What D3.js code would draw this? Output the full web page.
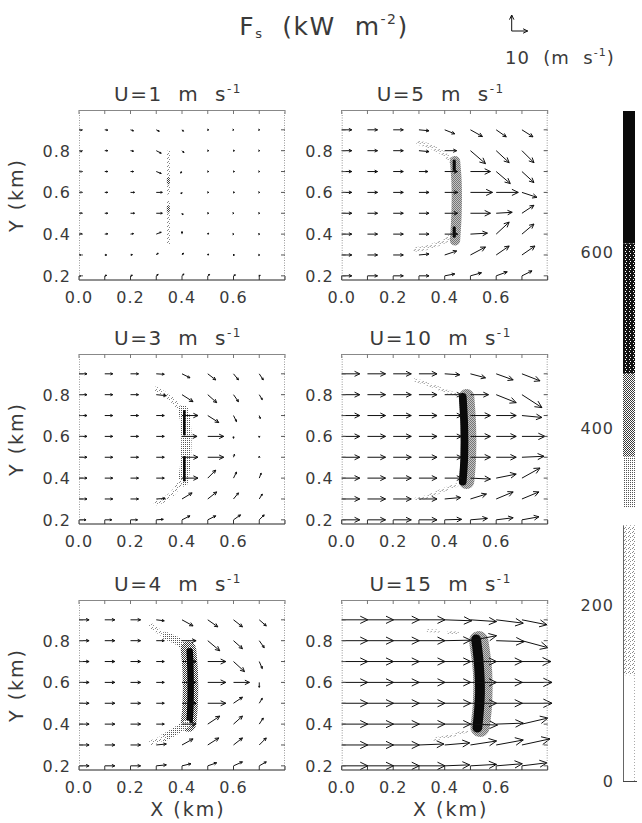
<!DOCTYPE html>
<html><head><meta charset="utf-8">
<script src="https://cdn.jsdelivr.net/npm/d3@7"></script>
<style>
html,body{margin:0;padding:0;background:#fff;}
text{font-family:"DejaVu Sans",sans-serif;fill:#3a3a3a;}
</style></head><body>
<svg id="fig" width="642" height="823"></svg>
<script>
// Grid of the wind vectors (km)
const gridX = [0.0, 0.1, 0.2, 0.3, 0.4, 0.5, 0.6, 0.7];
const gridY = [0.9, 0.8, 0.7, 0.6, 0.5, 0.4, 0.3, 0.2];
const xTickLabels = [0.0, 0.2, 0.4, 0.6];
const yTickLabels = [0.2, 0.4, 0.6, 0.8];
const colorbarTicks = [0, 200, 400, 600];
// Sensible heat flux shading classes (kW m-2)
const fluxEdges = [0, 120, 290, 310, 368, 462, 610, 760];
const fluxShades = ["none", "light", "none", "lightmed", "med", "dark", "black"];
// Ambient wind speed of each panel, row by row (m s-1)
const ambientSpeeds = [1, 5, 3, 10, 4, 15];

// Wind (u, v) in m s-1, rows from y=0.9 down to y=0.2, columns x=0.0..0.7
const windU1 = [
  [[1.9,-0.3],[1.9,-0.2],[1.9,-0.6],[1.9,-0.9],[0.9,-0.9],[0.6,0],[0.3,0],[0.3,0]],
  [[1.9,-0.6],[1.9,0],[1.9,-0.3],[3.1,-1.6],[1.2,-1.2],[0.6,0],[0.6,0],[0.3,0]],
  [[1.9,0],[1.9,0],[1.9,0],[3.1,-1.2],[-0.9,-0.9],[0.6,0],[0.6,0],[0.3,0]],
  [[1.9,0],[1.9,0],[2.5,0],[3.8,0],[-0.6,-0.9],[0.6,0],[0.6,0],[0.3,0]],
  [[1.9,0],[1.9,0],[2.5,0],[3.8,0],[0.6,-1.0],[0.6,0],[0.3,0],[0.3,0]],
  [[1.9,0.3],[1.9,0.2],[1.9,0.3],[3.1,1.2],[0,1.6],[0.6,0.6],[0.3,0],[0.3,0]],
  [[1.2,0],[1.2,0],[1.2,0.2],[1.2,1.2],[0.9,1.2],[0.6,0.6],[0.6,0],[0.3,0]],
  [[1.2,0],[1.2,0.3],[1.2,0.3],[1.2,0.9],[1.2,1.2],[1.2,0.9],[1.2,0.6],[0.6,0.3]]
];
const windU5 = [
  [[6.3,0],[6.3,0],[6.3,0],[6.3,-0.6],[6.3,-2.5],[7.5,-4.2],[6.3,-4.4],[6.9,-4.4]],
  [[6.3,0],[6.3,0],[6.3,0],[6.3,-0.6],[7.5,0],[9.4,-8.1],[8.1,-7.5],[7.5,-7.5]],
  [[6.3,0],[6.3,0],[6.3,0],[5.6,0],[8.1,0],[12.5,0],[8.8,-7.5],[7.5,-6.9]],
  [[6.3,0],[6.3,0],[6.3,0],[6.3,0],[8.1,0],[13.8,0],[13.8,0],[9.4,-3.1]],
  [[6.3,0],[6.3,0],[6.3,0],[6.3,0],[8.1,0],[12.5,0],[10.0,0.6],[7.5,5.0]],
  [[6.3,0],[6.3,0],[6.3,0],[6.3,0],[8.1,0],[10.6,0.6],[8.1,7.5],[7.5,6.3]],
  [[6.3,0],[6.3,0],[6.3,0],[6.3,0.6],[7.5,2.5],[9.4,5.0],[8.1,5.6],[8.1,5.6]],
  [[6.3,0],[6.3,0],[6.3,0],[6.3,0],[6.3,1.2],[6.9,1.9],[6.9,2.5],[6.3,3.1]]
];
const windU3 = [
  [[5.0,0],[5.0,0],[5.0,0],[5.0,-0.3],[5.0,-2.5],[5.0,-3.8],[3.1,-3.8],[2.5,-3.8]],
  [[5.0,0],[5.0,0],[5.0,0],[6.3,-0.6],[6.9,-4.4],[5.6,-5.0],[3.1,-4.4],[1.9,-3.1]],
  [[5.0,0],[5.0,0],[5.0,0],[5.0,0],[10.0,0],[6.9,-4.4],[1.9,-3.8],[0.6,-1.9]],
  [[5.0,0],[5.0,0],[5.0,0],[5.0,0],[9.4,0],[10.0,0],[0,-1.2],[0,-0.6]],
  [[5.0,0],[5.0,0],[5.0,0],[5.0,0],[10.0,0],[10.0,0],[0.6,1.9],[0,0.6]],
  [[5.0,0],[5.0,0],[5.0,0],[5.0,0],[10.0,0],[5.0,5.0],[1.9,3.8],[1.2,3.1]],
  [[5.0,0],[5.0,0],[5.0,0],[5.6,0.3],[6.3,3.8],[5.6,4.4],[3.1,3.8],[1.9,3.1]],
  [[4.4,0],[4.4,0],[4.4,0],[4.4,0.3],[5.0,2.5],[5.0,2.5],[4.4,3.1],[3.1,3.1]]
];
const windU10 = [
  [[11.3,0],[11.3,0],[11.3,0],[11.3,0],[9.4,-0.6],[9.4,-2.5],[10.6,-3.8],[11.3,-4.4]],
  [[11.3,0],[11.3,0],[11.3,0],[11.3,0],[10.6,0],[11.3,0],[12.5,-5.0],[12.5,-8.1]],
  [[11.3,0],[11.3,0],[11.3,0],[11.3,0],[10.6,0],[12.5,0],[12.5,0],[12.5,-1.2]],
  [[11.3,0],[11.3,0],[11.3,0],[11.3,0],[10.6,0],[12.5,0],[12.5,0],[14.4,0]],
  [[11.3,0],[11.3,0],[11.3,0],[11.3,0],[10.6,0],[12.5,0],[12.5,0],[13.8,0.6]],
  [[11.3,0],[11.3,0],[11.3,0],[11.3,0],[10.6,0],[12.5,-0.6],[12.5,2.5],[11.3,6.3]],
  [[11.3,0],[11.3,0],[11.3,0],[11.3,0],[10.0,0.9],[10.0,3.1],[10.6,4.4],[10.6,4.4]],
  [[11.3,0],[11.3,0],[11.3,0],[11.3,0],[10.6,0.3],[10.6,0.9],[10.6,1.3],[10.6,1.9]]
];
const windU4 = [
  [[6.3,0],[6.3,0],[6.3,0],[5.0,-0.6],[6.9,-3.8],[6.3,-4.4],[5.6,-4.4],[4.4,-3.8]],
  [[6.3,0],[6.3,0],[6.3,0],[5.0,0],[8.8,0],[7.5,-6.3],[5.6,-5.0],[3.1,-4.4]],
  [[6.3,0],[6.3,0],[6.3,0],[5.0,0],[8.8,0],[11.3,0],[6.9,-6.3],[1.9,-4.4]],
  [[6.3,0],[6.3,0],[6.3,0],[5.0,0],[8.8,0],[11.3,0],[10.0,0],[0,-3.1]],
  [[6.3,0],[6.3,0],[6.3,0],[5.0,0],[8.8,0],[11.3,0],[5.6,3.8],[1.9,3.1]],
  [[6.3,0],[6.3,0],[6.3,0],[5.0,0],[8.8,0],[7.5,5.0],[5.6,5.0],[2.5,3.8]],
  [[6.3,0],[6.3,0],[6.3,0],[6.3,0.6],[6.9,3.8],[6.9,4.4],[5.6,4.4],[4.4,4.4]],
  [[6.3,0],[6.3,0],[6.3,0],[6.3,0.6],[5.6,1.3],[5.6,1.9],[5.6,2.5],[4.4,2.5]]
];
const windU15 = [
  [[16.3,0],[16.3,0],[16.3,0],[16.3,0],[16.9,-0.6],[16.3,-1.1],[16.9,-2.1],[15.6,-3.1]],
  [[16.3,0],[16.3,0],[16.3,0],[16.3,0],[16.3,0.3],[16.3,3.1],[17.5,-0.6],[16.3,-4.4]],
  [[16.3,0],[16.3,0],[16.3,0],[16.3,0],[16.3,0],[16.3,0],[16.3,0],[18.1,0]],
  [[16.3,0],[16.3,0],[16.3,0],[16.3,0],[16.3,0],[16.3,0],[16.3,0],[18.8,0]],
  [[16.3,0],[16.3,0],[16.3,0],[16.3,0],[16.3,0],[16.3,0],[16.3,0],[18.8,0]],
  [[16.3,0],[16.3,0],[16.3,0],[16.3,0],[16.3,0],[16.9,-0.6],[16.9,0.6],[16.3,3.8]],
  [[16.3,0],[16.3,0],[16.3,0],[15.6,0.6],[15.6,1.3],[16.3,2.5],[16.9,3.1],[17.5,3.8]],
  [[16.3,0],[16.3,0],[16.3,0],[16.3,0],[15.6,0.6],[16.3,0.9],[16.3,1.3],[15.6,1.9]]
];

// Fire-front heat flux bands: flux f (kW m-2), band width w (km), centre line (x, y) in km
const fluxU1 = [
  {f: 220, w: 0.018, pts: [[0.347,0.79],[0.347,0.60]]},
  {f: 220, w: 0.018, pts: [[0.347,0.55],[0.347,0.36]]},
  {f: 400, w: 0.012, pts: [[0.347,0.665],[0.347,0.645]]},
  {f: 400, w: 0.012, pts: [[0.347,0.530],[0.347,0.510]]}
];
const fluxU5 = [
  {f: 250, w: 0.018, pts: [[0.298,0.838],[0.335,0.825],[0.369,0.806],[0.408,0.774],[0.430,0.740]]},
  {f: 250, w: 0.018, pts: [[0.430,0.400],[0.405,0.370],[0.369,0.351],[0.330,0.335],[0.285,0.327]]},
  {f: 400, w: 0.040, pts: [[0.440,0.750],[0.446,0.650],[0.446,0.500],[0.440,0.370]]},
  {f: 650, w: 0.012, pts: [[0.437,0.750],[0.437,0.710]]},
  {f: 650, w: 0.012, pts: [[0.437,0.430],[0.437,0.390]]}
];
const fluxU3 = [
  {f: 250, w: 0.020, pts: [[0.300,0.826],[0.335,0.800],[0.366,0.770],[0.395,0.725]]},
  {f: 340, w: 0.040, pts: [[0.405,0.725],[0.415,0.650],[0.415,0.500],[0.405,0.385]]},
  {f: 250, w: 0.020, pts: [[0.395,0.385],[0.366,0.330],[0.335,0.300],[0.300,0.282]]},
  {f: 650, w: 0.010, pts: [[0.409,0.720],[0.409,0.610]]},
  {f: 650, w: 0.010, pts: [[0.409,0.500],[0.409,0.390]]}
];
const fluxU10 = [
  {f: 200, w: 0.014, pts: [[0.285,0.870],[0.344,0.846],[0.395,0.822],[0.447,0.800]]},
  {f: 380, w: 0.060, pts: [[0.485,0.790],[0.492,0.650],[0.492,0.500],[0.485,0.385]]},
  {f: 700, w: 0.030, pts: [[0.470,0.790],[0.476,0.650],[0.476,0.500],[0.470,0.383]]},
  {f: 250, w: 0.014, pts: [[0.447,0.367],[0.395,0.343],[0.330,0.310],[0.290,0.300]]}
];
const fluxU4 = [
  {f: 250, w: 0.020, pts: [[0.282,0.870],[0.310,0.845],[0.340,0.822]]},
  {f: 340, w: 0.030, pts: [[0.340,0.822],[0.392,0.790],[0.418,0.750]]},
  {f: 400, w: 0.060, pts: [[0.425,0.760],[0.432,0.650],[0.432,0.500],[0.425,0.400]]},
  {f: 700, w: 0.025, pts: [[0.430,0.750],[0.433,0.650],[0.433,0.500],[0.430,0.420]]},
  {f: 340, w: 0.030, pts: [[0.418,0.400],[0.366,0.360],[0.330,0.335]]},
  {f: 250, w: 0.020, pts: [[0.330,0.335],[0.282,0.310]]}
];
const fluxU15 = [
  {f: 200, w: 0.012, pts: [[0.335,0.848],[0.375,0.846]]},
  {f: 200, w: 0.012, pts: [[0.415,0.838],[0.450,0.836]]},
  {f: 400, w: 0.075, pts: [[0.532,0.800],[0.547,0.650],[0.547,0.500],[0.537,0.385]]},
  {f: 700, w: 0.038, pts: [[0.522,0.806],[0.532,0.700],[0.537,0.550],[0.527,0.383]]},
  {f: 200, w: 0.012, pts: [[0.356,0.327],[0.420,0.343],[0.485,0.367]]}
];

const windFields = [windU1, windU5, windU3, windU10, windU4, windU15];
const fluxFields = [fluxU1, fluxU5, fluxU3, fluxU10, fluxU4, fluxU15];

// ---- layout ----
const colLeft = [79, 341.7];
const rowTop = [110, 354, 600];
const panelW = 206, panelH = 170;

const svg = d3.select("#fig");
const defs = svg.append("defs");

// dither patterns for the grey levels
function ditherPattern(id, size, cells, colour) {
  const p = defs.append("pattern").attr("id", id)
    .attr("patternUnits", "userSpaceOnUse").attr("width", size).attr("height", size);
  p.append("rect").attr("width", size).attr("height", size).attr("fill", "#fff");
  cells.forEach(([cx, cy]) => p.append("rect").attr("x", cx).attr("y", cy)
    .attr("width", 1).attr("height", 1).attr("fill", colour));
}
ditherPattern("light", 4, [[0,0],[2,1],[1,3]], "#8a8a8a");
ditherPattern("lightmed", 2, [[0,0]], "#555");
ditherPattern("med", 2, [[0,0],[1,1]], "#3a3a3a");
ditherPattern("dark", 4, [[0,0],[1,0],[2,0],[3,0],[0,1],[1,1],[3,1],[0,2],[1,2],[2,2],[3,2],[0,3],[2,3],[3,3]], "#111");
const shadeFill = s => s === "none" ? "none" : s === "black" ? "#0a0a0a" : `url(#${s})`;
const fluxClass = d3.scaleThreshold().domain(fluxEdges.slice(1, -1)).range(fluxShades);

const xScale = d3.scaleLinear().domain([0, 0.8]).range([0, panelW]);
const yScale = d3.scaleLinear().domain([0.18, 0.995]).range([panelH, 0]);
const arrowLen = d3.scaleLinear().domain([0, 10]).range([0, 16]);

function arrowPath(x0, y0, dx, dy) {
  const L = Math.hypot(dx, dy);
  const x1 = x0 + dx, y1 = y0 + dy;
  if (L < 0.05) return `M${x0},${y0}h0.6`;
  const h = Math.max(1.6, 0.32 * L), a = Math.atan2(dy, dx), s = 0.45;
  const hx1 = x1 - h * Math.cos(a - s), hy1 = y1 - h * Math.sin(a - s);
  const hx2 = x1 - h * Math.cos(a + s), hy2 = y1 - h * Math.sin(a + s);
  return `M${x0},${y0}L${x1},${y1}M${hx1},${hy1}L${x1},${y1}L${hx2},${hy2}`;
}

const lineGen = d3.line().x(d => xScale(d[0])).y(d => yScale(d[1])).curve(d3.curveCatmullRom);

ambientSpeeds.forEach((speed, i) => {
  const col = i % 2, row = Math.floor(i / 2);
  const g = svg.append("g").attr("transform", `translate(${colLeft[col]},${rowTop[row]})`);

  // flux shading
  fluxFields[i].forEach(band => {
    g.append("path").attr("d", lineGen(band.pts))
      .attr("fill", "none")
      .attr("stroke", shadeFill(fluxClass(band.f)))
      .attr("stroke-width", xScale(band.w))
      .attr("stroke-linecap", "round");
  });

  // wind vectors
  const vecs = [];
  gridY.forEach((yy, r) => gridX.forEach((xx, c) => {
    const [u, v] = windFields[i][r][c];
    vecs.push({x: xx, y: yy, u, v});
  }));
  g.append("g").selectAll("path").data(vecs).join("path")
    .attr("d", d => arrowPath(xScale(d.x), yScale(d.y), arrowLen(d.u), -arrowLen(d.v)))
    .attr("fill", "none").attr("stroke", "#111").attr("stroke-width", 1)
    .attr("stroke-linejoin", "miter");

  // frame
  g.append("line").attr("x1", 0).attr("x2", panelW).attr("y1", 0.5).attr("y2", 0.5).attr("stroke", "#888");
  g.append("line").attr("x1", 0).attr("x2", panelW).attr("y1", panelH).attr("y2", panelH).attr("stroke", "#222");
  g.append("line").attr("x1", 0.5).attr("x2", 0.5).attr("y1", 0).attr("y2", panelH).attr("stroke", "#999").attr("stroke-dasharray", "1,1.5");
  g.append("line").attr("x1", panelW - 0.5).attr("x2", panelW - 0.5).attr("y1", 0).attr("y2", panelH).attr("stroke", "#999").attr("stroke-dasharray", "1,1.5");

  // inward ticks
  const xt = d3.range(0, 0.801, 0.1), yt = d3.range(0.2, 0.901, 0.1);
  xt.forEach(t => {
    g.append("line").attr("x1", xScale(t)).attr("x2", xScale(t)).attr("y1", panelH).attr("y2", panelH - 4).attr("stroke", "#333");
    g.append("line").attr("x1", xScale(t)).attr("x2", xScale(t)).attr("y1", 0).attr("y2", 4).attr("stroke", "#777");
  });
  yt.forEach(t => {
    g.append("line").attr("y1", yScale(t)).attr("y2", yScale(t)).attr("x1", 0).attr("x2", 4).attr("stroke", "#555");
    g.append("line").attr("y1", yScale(t)).attr("y2", yScale(t)).attr("x1", panelW).attr("x2", panelW - 4).attr("stroke", "#555");
  });

  // tick labels
  g.selectAll(".xl").data(xTickLabels).join("text")
    .attr("x", d => xScale(d)).attr("y", panelH + 23)
    .attr("text-anchor", "middle").attr("font-size", 16).style("letter-spacing", "1px")
    .text(d => d.toFixed(1));
  g.selectAll(".yl").data(yTickLabels).join("text")
    .attr("x", -8).attr("y", d => yScale(d) + 6)
    .attr("text-anchor", "end").attr("font-size", 16).style("letter-spacing", "1px")
    .text(d => d.toFixed(1));

  // panel title
  const t = g.append("text").attr("x", panelW / 2 - 4).attr("y", -9)
    .attr("text-anchor", "middle").attr("font-size", 20).style("letter-spacing", "1.5px")
    .attr("xml:space", "preserve");
  t.append("tspan").text(`U=${speed}  m  s`);
  t.append("tspan").attr("dy", -8).attr("font-size", 12).text("-1");

  if (col === 0) {
    g.append("text").attr("transform", `translate(-56,${panelH / 2}) rotate(-90)`)
      .attr("text-anchor", "middle").attr("font-size", 19).style("letter-spacing", "2px")
      .attr("xml:space", "preserve").text("Y (km)");
  }
  if (row === 2) {
    g.append("text").attr("x", panelW / 2 + 6).attr("y", panelH + 46)
      .attr("text-anchor", "middle").attr("font-size", 19).style("letter-spacing", "2px")
      .attr("xml:space", "preserve").text("X (km)");
  }
});

// ---- main title ----
const title = svg.append("text").attr("x", 324).attr("y", 35).attr("text-anchor", "middle")
  .attr("font-size", 25).style("letter-spacing", "1.5px").attr("xml:space", "preserve");
title.append("tspan").text("F");
title.append("tspan").attr("font-size", 13).attr("dy", 3).text("s");
title.append("tspan").attr("dy", -3).text("  (kW  m");
title.append("tspan").attr("font-size", 14).attr("dy", -11).text("-2");
title.append("tspan").attr("dy", 11).text(")");

// ---- vector key ----
const keyX = 511.7, keyY = 31;
svg.append("path").attr("d", arrowPath(keyX, keyY, 0, -arrowLen(10)) + arrowPath(keyX, keyY, arrowLen(10), 0))
  .attr("fill", "none").attr("stroke", "#111").attr("stroke-width", 1);
const key = svg.append("text").attr("x", 505).attr("y", 64).attr("font-size", 18)
  .style("letter-spacing", "1px").attr("xml:space", "preserve");
key.append("tspan").text("10  (m  s");
key.append("tspan").attr("font-size", 11).attr("dy", -8).text("-1");
key.append("tspan").attr("dy", 8).text(")");

// ---- colour bar ----
const cbX = 623, cbW = 12;
const cbScale = d3.scaleLinear().domain([0, 760]).range([781, 111]);
const bands = fluxShades.map((s, k) => ({lo: fluxEdges[k], hi: fluxEdges[k + 1], shade: s}));
svg.append("g").selectAll("rect").data(bands).join("rect")
  .attr("x", cbX).attr("width", cbW)
  .attr("y", d => cbScale(d.hi)).attr("height", d => cbScale(d.lo) - cbScale(d.hi))
  .attr("fill", d => shadeFill(d.shade));
svg.append("line").attr("x1", cbX + 0.5).attr("x2", cbX + 0.5)
  .attr("y1", cbScale(0)).attr("y2", cbScale(290)).attr("stroke", "#666");
svg.append("line").attr("x1", cbX + cbW - 0.5).attr("x2", cbX + cbW - 0.5)
  .attr("y1", cbScale(0)).attr("y2", cbScale(120)).attr("stroke", "#aaa").attr("stroke-dasharray", "1,2");
svg.append("line").attr("x1", cbX).attr("x2", cbX + cbW + 2)
  .attr("y1", cbScale(0) + 0.5).attr("y2", cbScale(0) + 0.5).attr("stroke", "#444");
svg.append("g").selectAll("text").data(colorbarTicks).join("text")
  .attr("x", 614).attr("y", d => cbScale(d) + 6).attr("text-anchor", "end")
  .attr("font-size", 16).style("letter-spacing", "1px").text(d => d);
</script>
</body></html>
